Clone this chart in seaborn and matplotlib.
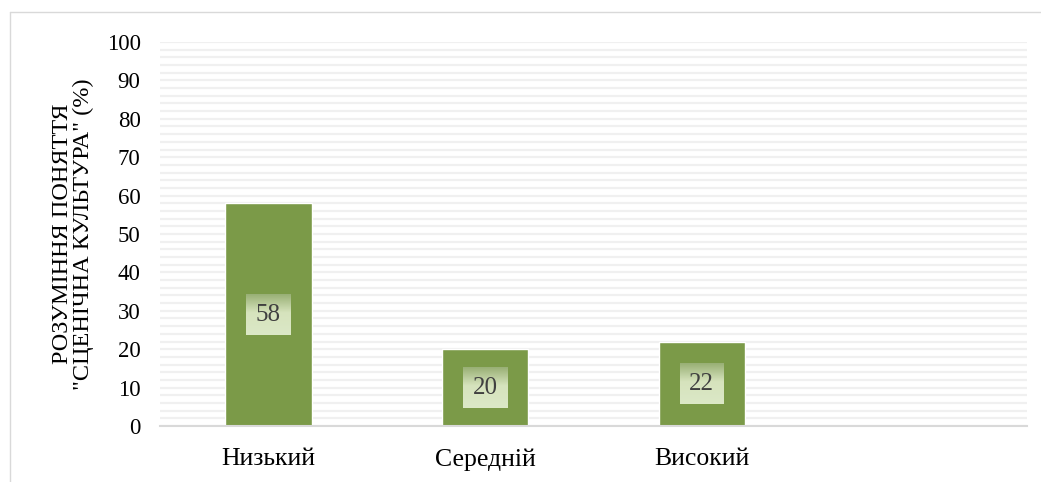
import matplotlib
matplotlib.use("Agg")
import matplotlib.pyplot as plt
from matplotlib.lines import Line2D
import seaborn as sns
import pandas as pd
import numpy as np

# data
levels = ["Низький", "Середній", "Високий"]
percent = [58, 20, 22]
y_ticks = list(range(0, 101, 10))
y_label = "РОЗУМІННЯ ПОНЯТТЯ\n\"СЦЕНІЧНА КУЛЬТУРА\" (%)"

bar_color = "#7B9A48"
grid_color = "#F0F0F0"
axis_color = "#D9D9D9"

sns.set_theme(style="white")
plt.rcParams["font.family"] = ["Liberation Serif", "DejaVu Serif"]

df = pd.DataFrame({"level": levels, "percent": percent})

fig = plt.figure(figsize=(10.41, 4.82), dpi=100)
ax = fig.add_axes([160 / 1041, 1 - 426 / 482, (1027 - 160) / 1041, (426 - 42) / 482])

sns.barplot(data=df, x="level", y="percent", order=levels, color=bar_color,
            saturation=1, width=0.4, ax=ax, zorder=3)

ax.set_xlim(-0.5, 3.5)
ax.set_ylim(0, 100)
ax.set_yticks(y_ticks)
ax.set_yticks(np.arange(0, 101, 2), minor=True)
ax.yaxis.grid(True, which="both", color=grid_color, linewidth=1.6, zorder=0)
ax.set_axisbelow(True)

for side in ["left", "right", "top"]:
    ax.spines[side].set_visible(False)
ax.spines["bottom"].set_color(axis_color)
ax.spines["bottom"].set_linewidth(1.5)
ax.spines["bottom"].set_zorder(4)

ax.tick_params(axis="both", which="both", length=0, colors="black")
ax.tick_params(axis="x", labelsize=18.5, pad=16)
ax.tick_params(axis="y", labelsize=16.5, pad=14)

ax.set_xlabel("")
ax.set_ylabel(y_label, fontsize=17.5, color="black", labelpad=9, linespacing=1.0)

# value labels in the middle of each bar, on a small gradient box
labels = []
for i, v in enumerate(percent):
    t = ax.text(i, v / 2, str(v), ha="center", va="center", fontsize=18,
                color="#404040", zorder=6,
                bbox=dict(boxstyle="square,pad=0.38", facecolor="none",
                          edgecolor="none"))
    labels.append(t)

fig.canvas.draw()
top_c = np.array([0.60, 0.69, 0.46])
mid_c = np.array([0.84, 0.89, 0.74])
bot_c = np.array([0.86, 0.91, 0.78])
n = 60
s = np.linspace(0, 1, n)
grad = np.where(s[:, None] < 0.45,
                top_c + (mid_c - top_c) * (s[:, None] / 0.45),
                mid_c + (bot_c - mid_c) * ((s[:, None] - 0.45) / 0.55))
grad = grad[:, None, :]
inv = ax.transData.inverted()
for t in labels:
    bb = t.get_bbox_patch().get_window_extent()
    (x0, y0), (x1, y1) = inv.transform([[bb.x0, bb.y0], [bb.x1, bb.y1]])
    ax.imshow(grad, extent=(x0, x1, y0, y1), origin="upper", aspect="auto",
              zorder=5)
ax.set_xlim(-0.5, 3.5)
ax.set_ylim(0, 100)

# chart area frame (cut by the image edge)
fig.add_artist(Line2D([10 / 1041, 10 / 1041], [0, 1 - 12 / 482],
                      transform=fig.transFigure, color=axis_color, linewidth=1))
fig.add_artist(Line2D([10 / 1041, 1], [1 - 12 / 482, 1 - 12 / 482],
                      transform=fig.transFigure, color=axis_color, linewidth=1))

fig.savefig("out.png", dpi=100, facecolor="white")
